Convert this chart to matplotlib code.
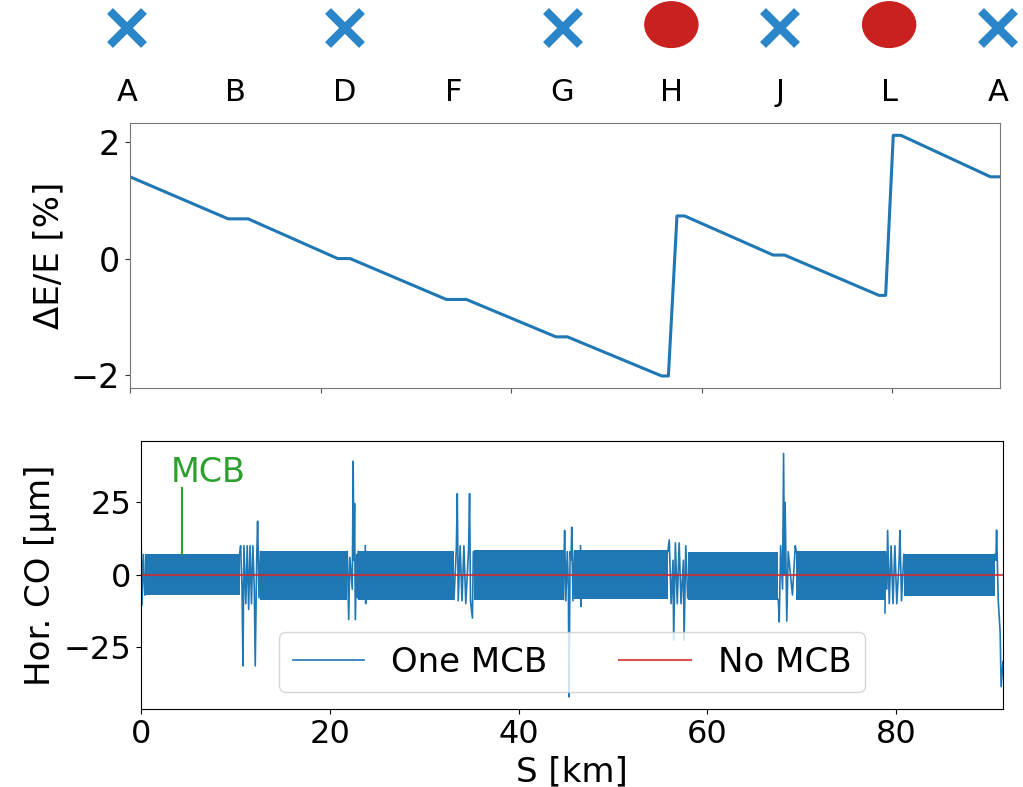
import numpy as np
import matplotlib
matplotlib.use("Agg")
import matplotlib.pyplot as plt
from matplotlib.patches import Ellipse

# --- data ---
# top strip: ring points
site_labels = ['A', 'B', 'D', 'F', 'G', 'H', 'J', 'L', 'A']
cross_sites = [0, 2, 4, 6, 8]
circle_sites = [5, 7]

# energy deviation along the ring (km, %)
s_de = [0, 10.3, 12.4, 21.8, 23.1, 33.2, 35.3, 44.7, 45.9, 55.8, 56.5,
        57.4, 58.2, 67.5, 68.7, 78.6, 79.3, 80.1, 80.9, 90.3, 91.3]
de_pct = [1.40, 0.68, 0.68, 0.0, 0.0, -0.70, -0.70, -1.34, -1.34, -2.01, -2.01,
          0.73, 0.73, 0.06, 0.06, -0.63, -0.63, 2.11, 2.11, 1.40, 1.40]

# envelope of the fast betatron oscillation in each arc (km, um)
band_start = [0.4, 12.65, 23.0, 35.3, 45.9, 57.9, 69.4, 80.8]
band_end = [10.45, 21.85, 33.15, 44.75, 55.8, 67.5, 78.8, 90.45]
band_hi = [7.2, 8.1, 8.3, 8.6, 8.4, 8.0, 8.1, 7.2]
band_lo = [-7.1, -8.6, -8.7, -8.9, -8.4, -8.9, -8.8, -7.4]

# orbit excursions around the straight sections (km, um)
ins_s = [
    [0.0, 0.1, 0.25, 0.4],
    [10.45, 10.55, 10.7, 10.8, 10.9, 11.1, 11.25, 11.4, 11.55, 11.7, 11.85, 12.0, 12.1,
     12.25, 12.35, 12.5, 12.65],
    [21.85, 22.0, 22.12, 22.38, 22.47, 22.55, 22.62, 22.7, 22.85, 22.95, 23.0],
    [23.75, 23.8, 23.85],
    [33.15, 33.4, 33.5, 33.6, 33.8, 34.0, 34.2, 34.4, 34.7, 34.8, 34.9, 35.1, 35.2, 35.3],
    [44.75, 44.8, 44.87, 45.0, 45.15, 45.27, 45.33, 45.45, 45.55, 45.62, 45.75, 45.9],
    [46.55, 46.6, 46.65],
    [55.8, 55.95, 56.15, 56.35, 56.42, 56.6, 56.8, 57.0, 57.2, 57.45, 57.52, 57.7, 57.9],
    [67.5, 67.6, 67.75, 67.95, 68.06, 68.15, 68.22, 68.4, 68.55, 69.0, 69.3, 69.4],
    [78.8, 78.85, 79.0, 79.08, 79.25, 79.45, 79.65, 79.85, 80.05, 80.3, 80.38, 80.55, 80.8],
    [90.45, 90.55, 90.62, 90.8, 91.0, 91.1, 91.3],
]
ins_co = [
    [15.0, -10.5, 7.0, -7.0],
    [7.0, 10.0, -5.0, -31.5, 10.0, -10.0, 10.0, -12.0, 10.0, -10.0, 10.0, -5.0, -31.5,
     5.0, 18.5, -8.0, 8.0],
    [8.0, -15.5, 6.0, -5.0, 39.2, 5.0, 24.6, -15.5, 7.0, -8.0, 8.0],
    [10.0, -10.0, 8.0],
    [-8.5, 9.0, 28.0, -9.0, 10.0, -9.0, 10.0, -10.0, 9.0, 28.0, -9.0, -15.0, 8.0, 8.0],
    [-8.5, 5.0, 15.3, -9.0, 8.0, -5.0, -42.2, 8.0, 5.0, 16.4, -9.0, 8.0],
    [10.0, -11.0, 8.0],
    [8.0, 12.0, -10.0, 5.0, -22.6, 11.0, -10.0, 11.0, -10.0, 5.0, -22.6, 10.0, -8.0],
    [-8.6, -16.3, 10.0, -5.0, 41.9, 0.0, 25.0, -16.0, 8.0, -7.0, 10.0, 8.0],
    [-13.2, 8.0, -5.0, 15.3, -10.0, 10.0, -10.0, 10.0, -10.0, 5.0, 15.3, -9.0, 7.0],
    [7.0, 5.0, 15.4, -9.0, -20.0, -38.7, -30.0],
]

no_mcb_s = [0, 91.3]
no_mcb_co = [0, 0]

mcb_s = 4.3

S_MAX = 91.3
BLUE = '#1f77b4'
W, H = 1023, 787

fig = plt.figure(figsize=(W / 100, H / 100), dpi=100)

# --- top strip with the ring points ---
ax0 = fig.add_axes([127 / W, (H - 120) / H, 871 / W, 120 / H])
ax0.set_xlim(0, 8)
ax0.set_ylim(0, 1)
ax0.axis('off')
ax0.plot(cross_sites, [0.77] * len(cross_sites), 'x', ms=25, mew=6,
         color='#2a85c9', clip_on=False)
for c in circle_sites:
    ax0.add_patch(Ellipse((c, 0.795), width=0.487, height=0.38,
                          color='#c8211f', clip_on=False))
for i, lab in enumerate(site_labels):
    ax0.text(i, 0.233, lab, ha='center', va='center', fontsize=22)

# --- energy deviation ---
ax1 = fig.add_axes([130 / W, (H - 388) / H, 870 / W, 264.7 / H])
ax1.plot(s_de, de_pct, color=BLUE, lw=2.2)
ax1.set_xlim(0, S_MAX)
ax1.set_xticks([0, 20, 40, 60, 80])
ax1.set_xticklabels([])
ax1.set_yticks([-2, 0, 2])
ax1.tick_params(axis='y', labelsize=24, colors='#333333', labelcolor='black')
ax1.tick_params(axis='x', colors='#555555')
for sp in ax1.spines.values():
    sp.set_color('#777777')
ax1.set_ylabel('ΔE/E [%]', fontsize=24.5)
ax1.yaxis.set_label_coords(-0.074, 0.5)

# --- horizontal closed orbit ---
ax2 = fig.add_axes([141 / W, (H - 709.3) / H, 862 / W, 268.3 / H])
for a, b, hi, lo in zip(band_start, band_end, band_hi, band_lo):
    ax2.fill_between([a, b], [lo, lo], [hi, hi], color=BLUE, lw=0)
xs, ys = [], []
for sx, sy in zip(ins_s, ins_co):
    xs += sx + [np.nan]
    ys += sy + [np.nan]
ax2.plot(xs, ys, color=BLUE, lw=1.2, label='One MCB')
ax2.plot(no_mcb_s, no_mcb_co, color='tab:red', alpha=0.8, lw=1.5, label='No MCB')

ax2.plot([mcb_s, mcb_s], [7.3, 30], color='tab:green', lw=1.5)
ax2.text(mcb_s - 1.15, 32, 'MCB', color='tab:green', fontsize=24, va='baseline')

ax2.set_xlim(0, S_MAX)
ax2.set_ylim(-46.5, 46.2)
ax2.set_xticks([0, 20, 40, 60, 80])
ax2.set_yticks([-25, 0, 25])
ax2.tick_params(labelsize=23)
ax2.set_xlabel('S [km]', fontsize=24.5)
ax2.set_ylabel('Hor. CO [μm]', fontsize=24.5)
ax2.yaxis.set_label_coords(-0.098, 0.5)
ax2.legend(loc='lower center', ncol=2, fontsize=24.5, handlelength=2.1,
           columnspacing=2.1, handletextpad=0.8, borderpad=0.4,
           bbox_to_anchor=(0.5, 0.0))

fig.savefig('out.png', dpi=100)
